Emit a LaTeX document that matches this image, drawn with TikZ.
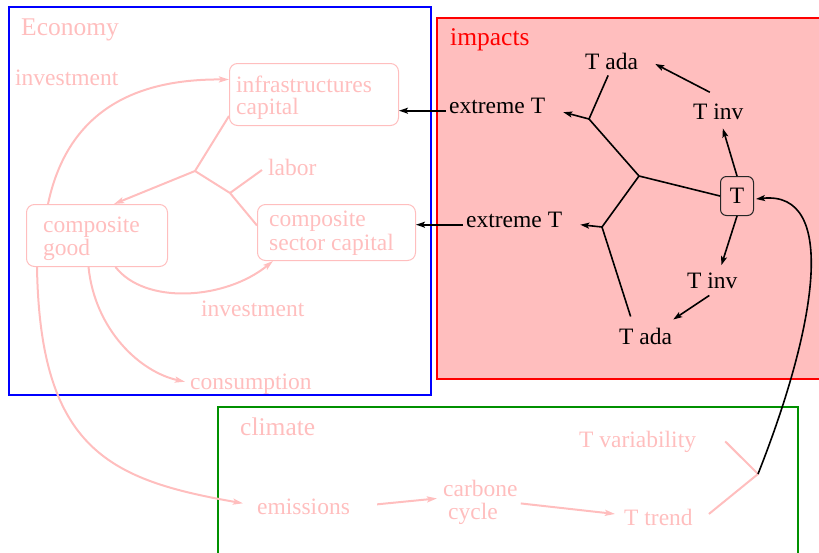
\documentclass[tikz,border=0pt]{standalone}
\usepackage{fontspec}
\setmainfont{Liberation Serif}
\usetikzlibrary{arrows.meta,calc}
\definecolor{pinkc}{RGB}{255,190,190}
\definecolor{figgreen}{RGB}{0,144,0}
\begin{document}
\begin{tikzpicture}[x=1pt,y=-1pt,
  txt/.style={inner sep=0pt, anchor=base west, font=\fontsize{23.5}{23.5}\selectfont},
  ttl/.style={inner sep=0pt, anchor=base west, font=\fontsize{25.5}{25.5}\selectfont},
  ptxt/.style={txt, text=pinkc},
  pbox/.style={draw=pinkc, line width=1pt, rounded corners=8pt, inner sep=0pt, anchor=north west},
  pline/.style={draw=pinkc, line width=2pt},
  parr/.style={pline, -{Stealth[length=10pt,width=6pt,inset=2pt]}},
  bline/.style={draw=black, line width=1.6pt},
  barr/.style={bline, -{Stealth[length=9pt,width=6pt,inset=2pt]}},
]
\useasboundingbox (0,0) rectangle (819,552);
\clip (0,0) rectangle (819,552);

% frames of the three sub-models
\draw[blue, line width=2.5pt] (9,7) rectangle (431,395);
\draw[red, line width=2.2pt, fill=pinkc] (437,18) rectangle (830,379);
\draw[figgreen, line width=2.5pt] (218,407) rectangle (798,600);

% ---------------- Economy ----------------
\node[ttl, text=pinkc] (econ) at (21,35) {Economy};
\node[ptxt] (inv1) at (15,85) {investment};
\node[pbox, minimum width=169, minimum height=62] (infra) at (229,63) {};
\node[ptxt] (infraA) at (236,92) {infrastructures};
\node[ptxt] (infraB) at (236,114) {capital};
\node[ptxt] (labor) at (268,175) {labor};
\node[pbox, minimum width=141, minimum height=62] (cg) at (26,204) {};
\node[ptxt] (cgA) at (43,232) {composite};
\node[ptxt] (cgB) at (43,255) {good};
\node[pbox, minimum width=158, minimum height=56] (csc) at (257,204) {};
\node[ptxt] (cscA) at (269,226) {composite};
\node[ptxt] (cscB) at (269,250) {sector capital};
\node[ptxt] (inv2) at (201,316) {investment};
\node[ptxt] (cons) at (190,389) {consumption};

% ---------------- impacts ----------------
\node[ttl, text=red] (imp) at (450,45) {impacts};
\node[txt] (tada1) at (585,69) {T ada};
\node[txt] (ext1) at (449,113) {extreme T};
\node[txt] (tinv1) at (693,119) {T inv};
\node[draw=black!85, line width=1pt, rounded corners=6pt, minimum width=33,
      minimum height=39, inner sep=0pt, anchor=north west,
      font=\fontsize{23.5}{23.5}\selectfont] (Tbox) at (720,176) {T};
\node[txt] (ext2) at (466,227) {extreme T};
\node[txt] (tinv2) at (687,288) {T inv};
\node[txt] (tada2) at (619,344) {T ada};

% ---------------- climate ----------------
\node[ttl, text=pinkc] (clim) at (240,435) {climate};
\node[ptxt] (tvar) at (579,447) {T variability};
\node[ptxt] (emis) at (257,514) {emissions};
\node[ptxt] (carbA) at (443,496) {carbone};
\node[ptxt] (carbB) at (448,519) {cycle};
\node[ptxt] (ttrend) at (624,525) {T trend};

% branching points
\coordinate (J1) at (195,171);
\coordinate (J2) at (230,193);
\coordinate (J)  at (639,176);
\coordinate (Jt) at (589,119);
\coordinate (Jb) at (602,227);
\coordinate (Jc) at (758,474);

% economy flows
\draw[pline] ($(infra.south west)+(0,-10)$) -- (J1) -- (J2) -- ($(csc.west)+(0,-7)$);
\draw[pline] (J2) -- ($(labor.west)+(-6,3)$);
\draw[parr] (J1) -- ($(cg.north)+(17,0)$);
\draw[parr] ($(cg.north west)+(22,0)$) .. controls (70,100) and (150,79) .. ($(infra.west)+(0,-15)$);
\draw[parr] ($(cg.south)+(18.5,0)$) .. controls (145,305) and (225,300) .. ($(csc.south west)+(16,0)$);
\draw[parr] ($(cg.south)+(-8.5,0)$) .. controls (95,330) and (140,372) .. ($(cons.west)+(-5,-2)$);
\draw[parr] ($(cg.south west)+(11,0)$) .. controls (40,450) and (110,480) .. ($(emis.west)+(-14,-3)$);

% climate flows
\draw[parr] ($(emis.east)+(27,-2)$) -- ($(carbA.south west)+(-6,2)$);
\draw[parr] ($(carbA.south east)+(3,7)$) -- ($(ttrend.west)+(-9,-3)$);
\draw[pline] ($(tvar.east)+(29,0)$) -- (Jc) -- ($(ttrend.east)+(16,-3)$);

% impact links
\draw[barr] ($(ext1.mid west)+(-3,0)$) -- (infra.east |- ext1.mid west);
\draw[barr] ($(ext2.mid west)+(-3,0)$) -- (csc.east |- ext2.mid west);
\draw[barr] (Tbox.north) -- ($(tinv1.south)+(4.5,9)$);
\draw[barr] ($(tinv1.north)+(-8.5,-11)$) -- ($(tada1.east)+(17,3)$);
\draw[barr] (Tbox.south) -- ($(tinv2.north)+(9,-7)$);
\draw[barr] ($(tinv2.south)+(-3,7)$) -- ($(tada2.north east)+(1,-8)$);
\draw[bline] (Tbox.west) -- (J) -- (Jt) -- ($(tada1.south)+(-3.5,6)$);
\draw[barr] (Jt) -- ($(ext1.mid east)+(18,1.5)$);
\draw[bline] (J) -- (Jb) -- ($(tada2.north)+(-15,-11)$);
\draw[barr] (Jb) -- ($(ext2.mid east)+(18,0)$);
\draw[barr] (Jc) .. controls (815,330) and (840,190) .. ($(Tbox.east)+(2,3)$);
\end{tikzpicture}
\end{document}
